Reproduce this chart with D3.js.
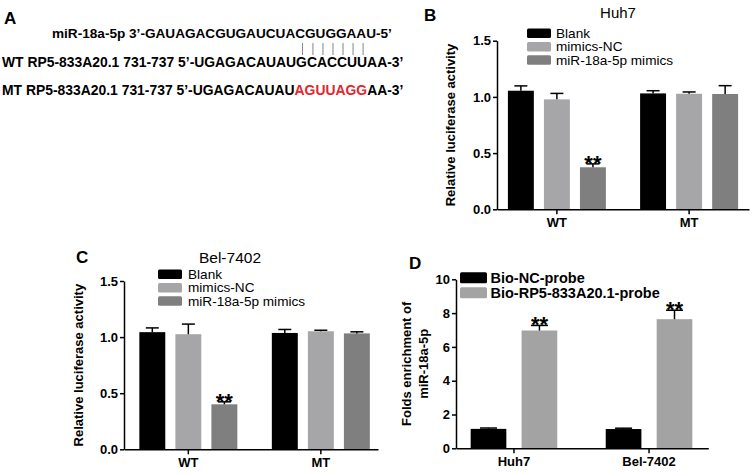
<html>
<head>
<script src="https://cdnjs.cloudflare.com/ajax/libs/d3/7.8.5/d3.min.js"></script>
<meta charset="UTF-8">
<style>
  body { margin: 0; background: #fff; }
  svg { font-family: "Liberation Sans", Arial, sans-serif; }
</style>
</head>
<body>
<div id="chart"></div>
<script>

// ---- data ----
const lucGroups = ['WT', 'MT'];
const lucSeries = ['Blank', 'mimics-NC', 'miR-18a-5p mimics'];
const lucColors = ['#000000', '#a6a6a8', '#7f7f7f'];
const lucTicks = [0, 0.5, 1.0, 1.5];

const huh7Mean = [[1.055, 0.978, 0.374], [1.031, 1.028, 1.026]];
const huh7Sd   = [[0.043, 0.053, 0.030], [0.024, 0.016, 0.074]];
const huh7Sig  = [['', '', '**'], ['', '', '']];

const belMean = [[1.044, 1.026, 0.401], [1.037, 1.052, 1.033]];
const belSd   = [[0.038, 0.090, 0.022], [0.031, 0.009, 0.014]];
const belSig  = [['', '', '**'], ['', '', '']];

const pullGroups = ['Huh7', 'Bel-7402'];
const pullSeries = ['Bio-NC-probe', 'Bio-RP5-833A20.1-probe'];
const pullColors = ['#000000', '#a3a3a3'];
const pullTicks = [0, 2, 4, 6, 8, 10];
const pullMean = [[1.15, 6.97], [1.14, 7.64]];
const pullSd   = [[0.05, 0.30], [0.05, 0.53]];
const pullSig  = [['', '**'], ['', '**']];

const W = 753, H = 473;
const svg = d3.select('#chart').append('svg')
  .attr('width', W).attr('height', H);

// ---- panel A: sequences ----
const seqFont = 13.6;
const gA = svg.append('g');
gA.append('text').attr('x', 4).attr('y', 24)
  .style('font-size', '17px').style('font-weight', 'bold').text('A');

const line1 = gA.append('text').attr('x', 52).attr('y', 38)
  .style('font-size', seqFont + 'px').style('font-weight', 'bold')
  .text('miR-18a-5p 3\u2019-GAUAGACGUGAUCUACGUGGAAU-5\u2019');

const line2 = gA.append('text').attr('x', 2).attr('y', 67)
  .style('font-size', (seqFont + 0.3) + 'px').style('font-weight', 'bold')
  .text('WT RP5-833A20.1 731-737 5\u2019-UGAGACAUAUGCACCUUAA-3\u2019');

const line3 = gA.append('text').attr('x', 2).attr('y', 95)
  .style('font-size', (seqFont + 0.3) + 'px').style('font-weight', 'bold');
line3.append('tspan').text('MT RP5-833A20.1 731-737 5\u2019-UGAGACAUAU');
line3.append('tspan').attr('fill', '#e3272d').text('AGUUAGG');
line3.append('tspan').text('AA-3\u2019');

// pairing ticks under the 7 paired bases of the WT line
const wtText = line2.text();
const pairStart = wtText.indexOf('GCACCUU');
const l2 = line2.node();
for (let i = 0; i < 7; i++) {
  const a = l2.getStartPositionOfChar(pairStart + i).x;
  const b = l2.getEndPositionOfChar(pairStart + i).x;
  const cx = (a + b) / 2 + 1;
  gA.append('line')
    .attr('x1', cx).attr('x2', cx).attr('y1', 43).attr('y2', 55)
    .attr('stroke', '#777').attr('stroke-width', 0.9);
}

// ---- generic grouped bar panel ----
function barPanel(o) {
  const g = svg.append('g');

  const x = d3.scaleBand().domain(o.groups).range(o.xRange)
    .paddingInner(0.5).paddingOuter(o.padOuter).align(o.align);
  const xs = d3.scaleBand().domain(o.series).range([-o.half, o.half])
    .paddingInner(o.innerPad);
  const y = d3.scaleLinear().domain(o.yDomain).range(o.yRange);

  // bars
  o.groups.forEach((grp, gi) => {
    const cx = x(grp) + x.bandwidth() / 2;
    o.series.forEach((s, si) => {
      const m = o.mean[gi][si], sd = o.sd[gi][si];
      const bx = cx + xs(s);
      g.append('rect')
        .attr('x', bx).attr('y', y(m))
        .attr('width', xs.bandwidth()).attr('height', y(0) - y(m))
        .attr('fill', o.colors[si]);
      const mx = bx + xs.bandwidth() / 2;
      g.append('line').attr('x1', mx).attr('x2', mx)
        .attr('y1', y(m)).attr('y2', y(m + sd))
        .attr('stroke', '#000').attr('stroke-width', 1.5);
      g.append('line').attr('x1', mx - o.capW / 2).attr('x2', mx + o.capW / 2)
        .attr('y1', y(m + sd)).attr('y2', y(m + sd))
        .attr('stroke', '#000').attr('stroke-width', 1.5);
      if (o.sig[gi][si]) {
        g.append('text').attr('x', mx).attr('y', y(m + sd) + 7)
          .attr('text-anchor', 'middle')
          .style('font-size', '22px').style('font-weight', 'bold')
          .text(o.sig[gi][si]);
      }
    });
  });

  // axes
  const yAxis = g.append('g').attr('transform', `translate(${o.xRange[0]},0)`)
    .call(d3.axisLeft(y).tickValues(o.ticks).tickFormat(o.fmt)
      .tickSize(4).tickSizeOuter(0).tickPadding(2));
  const xAxis = g.append('g').attr('transform', `translate(0,${y(0)})`)
    .call(d3.axisBottom(x).tickSize(5).tickSizeOuter(0).tickPadding(3));
  [yAxis, xAxis].forEach(a => {
    a.selectAll('path, line').attr('stroke', '#000').attr('stroke-width', 1.5);
    a.selectAll('text').attr('fill', '#000')
      .style('font-size', '13px').style('font-weight', 'bold')
      .style('font-family', '"Liberation Sans", Arial, sans-serif');
  });

  // y label
  const yl = g.append('text')
    .attr('transform', `translate(${o.yLabelX},${(o.yRange[0] + o.yRange[1]) / 2}) rotate(-90)`)
    .attr('text-anchor', 'middle')
    .style('font-size', '13px').style('font-weight', 'bold');
  o.yLabel.forEach((t, i) => {
    yl.append('tspan').attr('x', 0).attr('dy', i === 0 ? 0 : 16.5).text(t);
  });

  // panel letter and title
  g.append('text').attr('x', o.letter[1]).attr('y', o.letter[2])
    .style('font-size', '17px').style('font-weight', 'bold').text(o.letter[0]);
  if (o.title) {
    g.append('text').attr('x', o.title[1]).attr('y', o.title[2])
      .attr('text-anchor', 'middle').attr('dominant-baseline', 'central')
      .style('font-size', o.title[3] + 'px').text(o.title[0]);
  }

  // legend
  o.series.forEach((s, si) => {
    const ly = o.legend.y + si * o.legend.dy;
    g.append('rect')
      .attr('x', o.legend.x).attr('y', ly - o.legend.h / 2)
      .attr('width', o.legend.w).attr('height', o.legend.h)
      .attr('rx', 1.5).attr('fill', o.colors[si]);
    g.append('text')
      .attr('x', o.legend.x + o.legend.w + o.legend.gap).attr('y', ly)
      .attr('dominant-baseline', 'central')
      .style('font-size', o.legend.size + 'px')
      .style('font-weight', o.legend.bold ? 'bold' : 'normal')
      .text(s);
  });
}

// ---- panel B: Huh7 ----
barPanel({
  groups: lucGroups, series: lucSeries, colors: lucColors,
  mean: huh7Mean, sd: huh7Sd, sig: huh7Sig,
  xRange: [497, 749], padOuter: 0.203, align: 0.5,
  half: 49, innerPad: 0.28, capW: 13,
  yDomain: [0, 1.5], yRange: [209.3, 40.7], ticks: lucTicks, fmt: d3.format('.1f'),
  yLabel: ['Relative luciferase activity'], yLabelX: 455,
  letter: ['B', 424, 21], title: ['Huh7', 618, 12, 15],
  legend: { x: 527, y: 33.3, dy: 13.4, w: 24, h: 9.5, gap: 5, size: 13.6, bold: false }
});

// ---- panel C: Bel-7402 ----
barPanel({
  groups: lucGroups, series: lucSeries, colors: lucColors,
  mean: belMean, sd: belSd, sig: belSig,
  xRange: [124, 378], padOuter: 0.2085, align: 0.565,
  half: 49, innerPad: 0.28, capW: 13,
  yDomain: [0, 1.5], yRange: [449.3, 281], ticks: lucTicks, fmt: d3.format('.1f'),
  yLabel: ['Relative luciferase activity'], yLabelX: 83,
  letter: ['C', 76, 263], title: ['Bel-7402', 230, 257, 15.5],
  legend: { x: 158, y: 274.3, dy: 13.4, w: 24, h: 9.5, gap: 6, size: 13.6, bold: false }
});

// ---- panel D: pull-down enrichment ----
barPanel({
  groups: pullGroups, series: pullSeries, colors: pullColors,
  mean: pullMean, sd: pullSd, sig: pullSig,
  xRange: [456, 708.3], padOuter: 0.184, align: 0.487,
  half: 43.3, innerPad: 0.3, capW: 17,
  yDomain: [0, 10], yRange: [448.3, 279.3], ticks: pullTicks, fmt: d3.format('d'),
  yLabel: ['Folds enrichment of', 'miR-18a-5p'], yLabelX: 411,
  letter: ['D', 409, 269], title: null,
  legend: { x: 460, y: 277.7, dy: 15, w: 27, h: 11, gap: 3.5, size: 14.5, bold: true }
});

</script>
</body>
</html>
